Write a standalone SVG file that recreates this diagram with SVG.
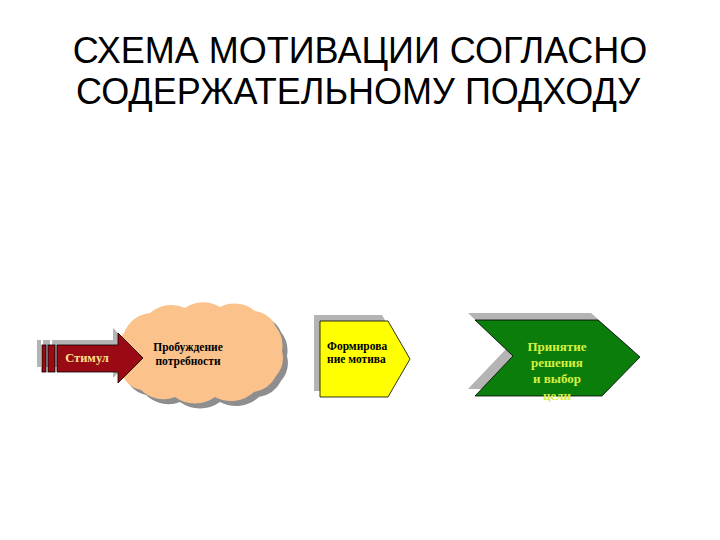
<svg xmlns="http://www.w3.org/2000/svg" width="720" height="540" viewBox="0 0 720 540">
<style>
.title{font-family:"Liberation Sans",Arial,sans-serif;font-size:36px;fill:#000;text-anchor:middle}
.lbl{font-family:"Liberation Serif","Times New Roman",serif;font-weight:bold;font-size:11.5px}
.shadow{fill:#B4B4B4}
.edge{stroke:#000;stroke-width:0.8}
</style>
<defs>
<path id="cloudShape" d="M124,333 A30,30 0 0 1 150,313 A32,32 0 0 1 185,308 A32,32 0 0 1 220,307 A32,32 0 0 1 255,311 A26,26 0 0 1 276,327 A30,30 0 0 1 282,351 A28,28 0 0 1 276,376 A30,30 0 0 1 254,392 A34,34 0 0 1 215,397 A34,34 0 0 1 175,397 A32,32 0 0 1 141,390 A26,26 0 0 1 121,372 A26,26 0 0 1 118,351 A22,22 0 0 1 124,333 Z"/>
</defs>
<rect width="720" height="540" fill="#fff"/>
<g id="title">
<text class="title" x="360" y="63">СХЕМА МОТИВАЦИИ СОГЛАСНО</text>
<text class="title" x="358" y="104">СОДЕРЖАТЕЛЬНОМУ ПОДХОДУ</text>
</g>
<g id="connectors"/>
<g id="cloud">
<use href="#cloudShape" transform="translate(5,5)" fill="#8E8E8E"/>
<use href="#cloudShape" fill="#FBC38B"/>
<text class="lbl" x="188" y="351" text-anchor="middle" fill="#000">Пробуждение</text>
<text class="lbl" x="188" y="365" text-anchor="middle" fill="#000">потребности</text>
</g>
<g id="stimulus">
<g transform="translate(-5,-5)" class="shadow">
<rect x="42" y="345" width="4" height="27"/>
<rect x="48" y="345" width="7" height="27"/>
<path d="M57,345 L118,345 L118,333 L143,358 L118,383 L118,372 L57,372 Z"/>
</g>
<rect x="42" y="345" width="4" height="27" fill="#9A0A14" class="edge"/>
<rect x="48" y="345" width="7" height="27" fill="#9A0A14" class="edge"/>
<path d="M57,345 L118,345 L118,333 L143,358 L118,383 L118,372 L57,372 Z" fill="#9A0A14" class="edge"/>
<text class="lbl" x="87" y="362" text-anchor="middle" fill="#FFE08A" style="font-size:12.5px">Стимул</text>
</g>
<g id="motive">
<path class="shadow" transform="translate(-6,-6)" d="M320,321 L388,321 L410,359 L388,397 L320,397 Z"/>
<path d="M320,321 L388,321 L410,359 L388,397 L320,397 Z" fill="#FFFF00" class="edge"/>
<text class="lbl" x="327" y="350" fill="#000">Формирова</text>
<text class="lbl" x="327" y="363" fill="#000">ние мотива</text>
</g>
<g id="decision">
<path class="shadow" transform="translate(-7,-7)" d="M475,320 L598,320 L640,357 L602,396 L475,396 L513,356 Z"/>
<path d="M475,320 L598,320 L640,357 L602,396 L475,396 L513,356 Z" fill="#0A7D0A" class="edge"/>
<g class="lbl" fill="#D8F040" text-anchor="middle" style="font-size:13px">
<text x="557" y="351">Принятие</text>
<text x="557" y="367">решения</text>
<text x="557" y="383">и выбор</text>
<text x="557" y="400">цели</text>
</g>
</g>
</svg>
